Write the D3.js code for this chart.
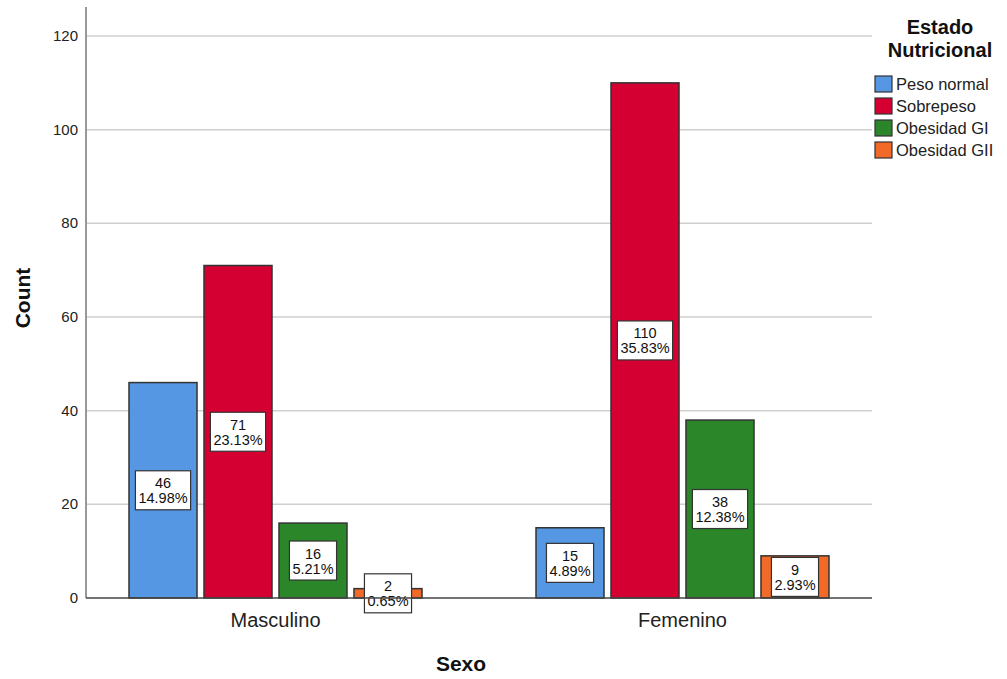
<!DOCTYPE html>
<html>
<head>
  <meta charset="utf-8">
  <title>Estado Nutricional por Sexo</title>
  <script src="https://d3js.org/d3.v7.min.js"></script>
  <style>
    body { margin: 0; background: #fff; }
    text { font-family: "Liberation Sans", Arial, sans-serif; }
  </style>
</head>
<body>
<div id="output"></div>

<script type="text/javascript">

  var categories = ["Masculino", "Femenino"];
  var series = ["Peso normal", "Sobrepeso", "Obesidad GI", "Obesidad GII"];
  var colors = ["#5597e3", "#d50032", "#2a8629", "#f26a27"];
  var masculino = [46, 71, 16, 2];
  var femenino = [15, 110, 38, 9];
  var masculinoPct = ["14.98%", "23.13%", "5.21%", "0.65%"];
  var femeninoPct = ["4.89%", "35.83%", "12.38%", "2.93%"];
  var yTicks = [0, 20, 40, 60, 80, 100, 120];

  var counts = [masculino, femenino];
  var pcts = [masculinoPct, femeninoPct];

  var w = 1007, h = 679;
  var plot = {left: 86, right: 872, top: 7, bottom: 598};

  var svg = d3.select("#output").append("svg")
          .attr("width", w)
          .attr("height", h);

  var y = d3.scaleLinear()
          .domain([0, 126.2])
          .range([plot.bottom, plot.top]);

  var x0 = d3.scaleBand()
          .domain(categories)
          .range([72, 886]);

  var x1 = d3.scaleBand()
          .domain(series)
          .range([0, 293])
          .paddingInner(0.093);

  // gridlines
  svg.append("g").selectAll("line")
          .data(yTicks.filter(function(d){ return d > 0; }))
          .enter().append("line")
          .attr("x1", plot.left).attr("x2", plot.right)
          .attr("y1", function(d){ return y(d); })
          .attr("y2", function(d){ return y(d); })
          .attr("stroke", "#cfcfcf")
          .attr("stroke-width", 1.5);

  // y tick labels
  svg.append("g").selectAll("text")
          .data(yTicks)
          .enter().append("text")
          .attr("x", plot.left - 8)
          .attr("y", function(d){ return y(d) + 5; })
          .attr("text-anchor", "end")
          .attr("font-size", 15)
          .attr("fill", "#222")
          .text(function(d){ return d; });

  // bars
  var groups = svg.append("g").selectAll("g")
          .data(categories)
          .enter().append("g")
          .attr("transform", function(d){
            return "translate(" + (x0(d) + (x0.bandwidth() - 293) / 2) + ",0)";
          });

  groups.selectAll("rect")
          .data(function(d, i){
            return series.map(function(s, j){
              return {s: s, v: counts[i][j], p: pcts[i][j], c: colors[j]};
            });
          })
          .enter().append("rect")
          .attr("x", function(d){ return x1(d.s); })
          .attr("width", x1.bandwidth())
          .attr("y", function(d){ return y(d.v); })
          .attr("height", function(d){ return y(0) - y(d.v); })
          .attr("fill", function(d){ return d.c; })
          .attr("stroke", "#333")
          .attr("stroke-width", 1.5);

  // axis lines
  svg.append("line")
          .attr("x1", plot.left).attr("x2", plot.left)
          .attr("y1", plot.top).attr("y2", plot.bottom)
          .attr("stroke", "#999").attr("stroke-width", 2);
  svg.append("line")
          .attr("x1", plot.left).attr("x2", plot.right)
          .attr("y1", plot.bottom).attr("y2", plot.bottom)
          .attr("stroke", "#444").attr("stroke-width", 1.5);

  // value labels
  var labels = groups.selectAll("g.lbl")
          .data(function(d, i){
            return series.map(function(s, j){
              return {s: s, v: counts[i][j], p: pcts[i][j]};
            });
          })
          .enter().append("g")
          .attr("class", "lbl")
          .attr("transform", function(d){
            var cx = x1(d.s) + x1.bandwidth() / 2;
            var cy = (y(d.v) + y(0)) / 2;
            return "translate(" + cx + "," + cy + ")";
          });

  labels.each(function(d){
    var g = d3.select(this);
    var box = g.append("rect");
    var t1 = g.append("text").attr("y", -2).text(d.v);
    var t2 = g.append("text").attr("y", 13).text(d.p);
    g.selectAll("text")
            .attr("text-anchor", "middle")
            .attr("font-size", 14.5)
            .attr("fill", "#111");
    var tw = Math.max(t1.node().getComputedTextLength(), t2.node().getComputedTextLength());
    box.attr("x", -tw / 2 - 3)
            .attr("width", tw + 6)
            .attr("y", -19.5)
            .attr("height", 39)
            .attr("fill", "#fff")
            .attr("stroke", "#333")
            .attr("stroke-width", 1.2);
  });

  // category labels
  svg.append("g").selectAll("text")
          .data(categories)
          .enter().append("text")
          .attr("x", function(d){ return x0(d) + x0.bandwidth() / 2; })
          .attr("y", 627)
          .attr("text-anchor", "middle")
          .attr("font-size", 20)
          .attr("fill", "#222")
          .text(function(d){ return d; });

  // axis titles
  svg.append("text")
          .attr("x", 461).attr("y", 671)
          .attr("text-anchor", "middle")
          .attr("font-size", 21).attr("font-weight", "bold")
          .attr("fill", "#111")
          .text("Sexo");

  svg.append("text")
          .attr("transform", "translate(30,298) rotate(-90)")
          .attr("text-anchor", "middle")
          .attr("font-size", 21).attr("font-weight", "bold")
          .attr("fill", "#111")
          .text("Count");

  // legend
  var legend = svg.append("g");
  legend.append("text")
          .attr("x", 940).attr("y", 34)
          .attr("text-anchor", "middle")
          .attr("font-size", 20).attr("font-weight", "bold")
          .attr("fill", "#111")
          .text("Estado");
  legend.append("text")
          .attr("x", 940).attr("y", 57)
          .attr("text-anchor", "middle")
          .attr("font-size", 20).attr("font-weight", "bold")
          .attr("fill", "#111")
          .text("Nutricional");

  var items = legend.selectAll("g.item")
          .data(series)
          .enter().append("g")
          .attr("class", "item")
          .attr("transform", function(d, i){ return "translate(875," + (76 + i * 22) + ")"; });

  items.append("rect")
          .attr("width", 17).attr("height", 16)
          .attr("fill", function(d, i){ return colors[i]; })
          .attr("stroke", "#333")
          .attr("stroke-width", 1.2);

  items.append("text")
          .attr("x", 21).attr("y", 14)
          .attr("font-size", 16.5)
          .attr("fill", "#222")
          .text(function(d){ return d; });

</script>
</body>
</html>
